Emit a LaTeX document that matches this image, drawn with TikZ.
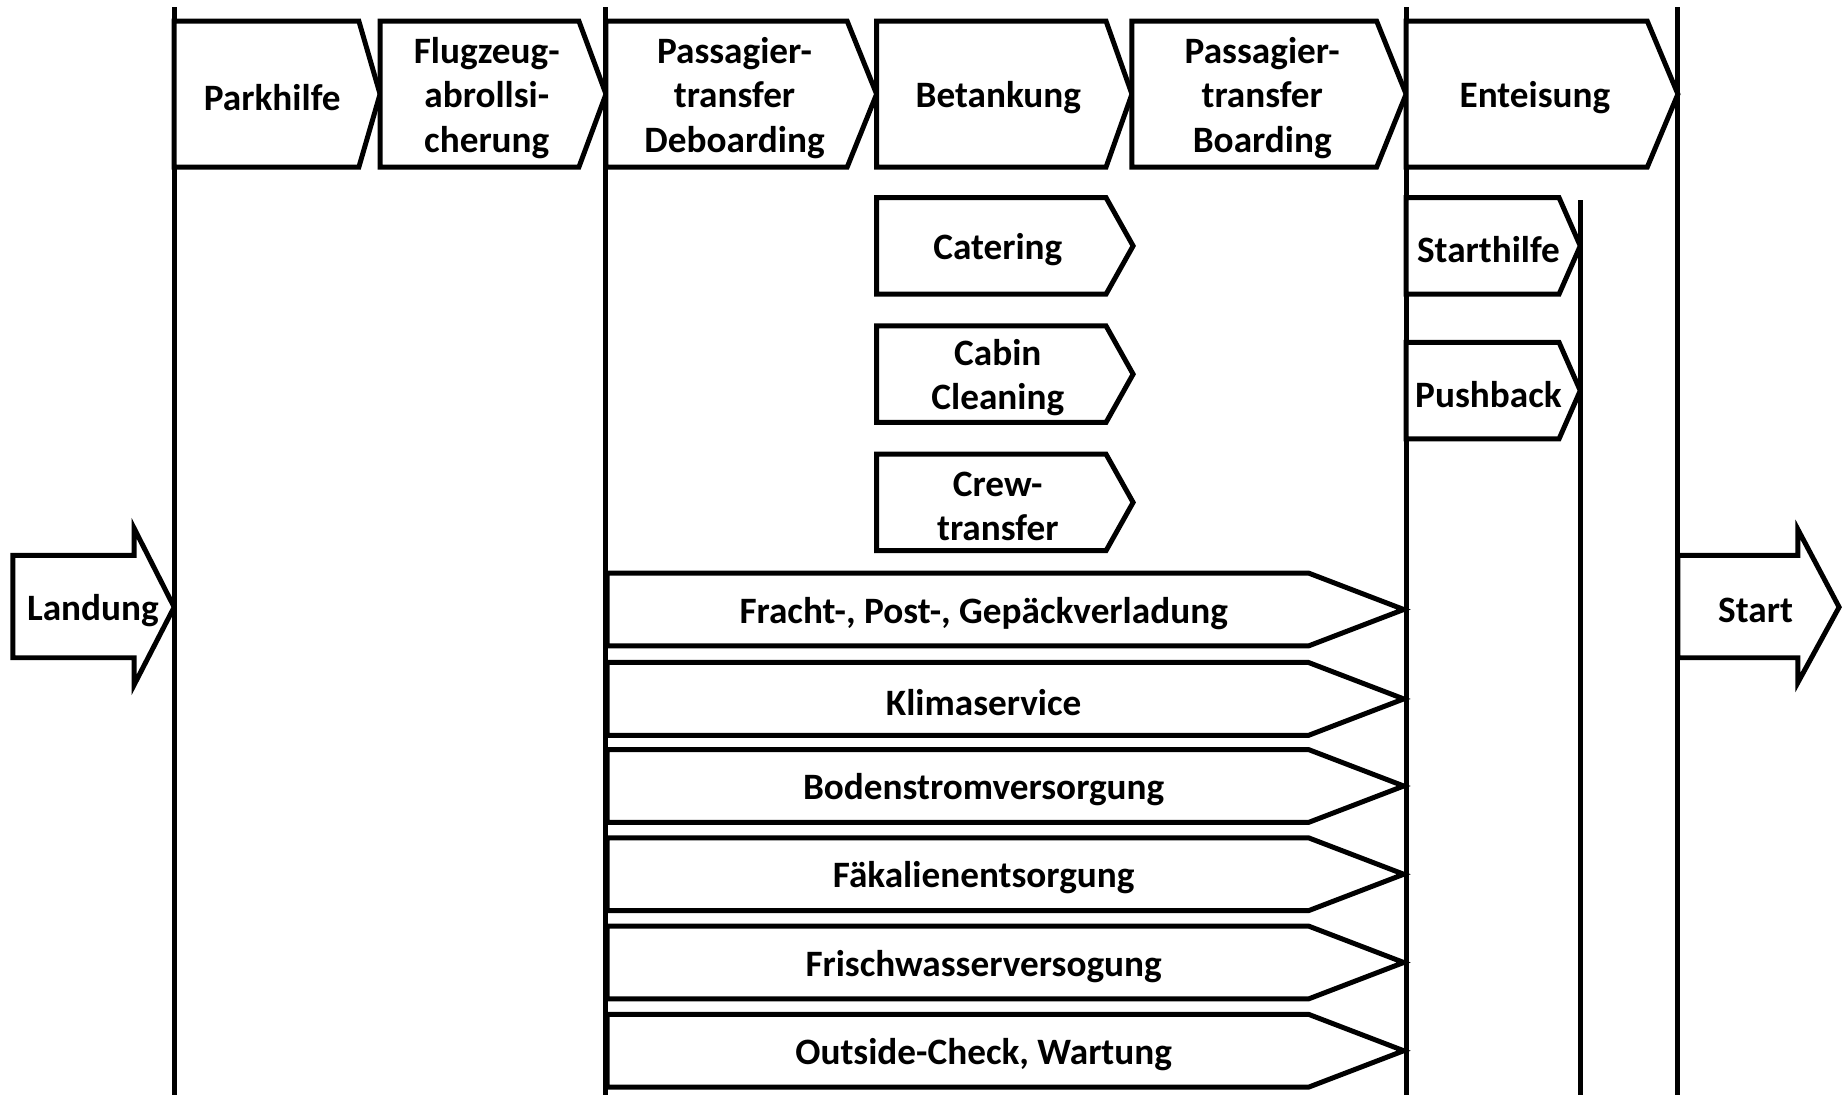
\documentclass[tikz,border=0pt]{standalone}
\usepackage{fontspec}
\setmainfont{Carlito}

\begin{document}
\begin{tikzpicture}[x = 0.01cm, y = -0.01cm, line width = 1.2pt,
    txt/.style = {font = \bfseries\fontsize{9}{10.7}\selectfont, align = center, inner sep = 0pt, yshift = -0.9pt},
    box/.style = {draw, fill = white, line join = miter}]
        \useasboundingbox (0,0) rectangle (1568,931);

        \foreach \x in {148, 515, 1195, 1426}
                 {
                   \draw (\x, 6) -- (\x, 931);
                 }
        \draw (1343, 170) -- (1343, 931);

        % top row
        \foreach \l/\c/\t/\n/\lab [evaluate = \l as \m using {(\l+\c)/2 + 0.27*(\t-\c)}] in
                 {148/305/323/park/Parkhilfe, 323/492/515/abroll/{Flugzeug-\\abrollsi-\\cherung},
                  515/720/745/deboard/{Passagier-\\transfer\\Deboarding}, 745/940/962/tank/Betankung,
                  962/1170/1195/board/{Passagier-\\transfer\\Boarding}, 1195/1400/1426/enteis/Enteisung}
                 {
                   \draw [box] (\l, 18) -- (\c, 18) -- (\t, 80) -- (\c, 142) -- (\l, 142) -- cycle;
                   \node [txt] (\n) at (\m, 80) {\lab};
                 }

        % below Betankung
        \foreach \y/\n/\lab in {168/cat/Catering, 277/clean/{Cabin\\Cleaning}, 386/crew/{Crew-\\transfer}}
                 {
                   \draw [box] (745, \y) -- (940, \y) -- (963, \y+41) -- (940, \y+82) -- (745, \y+82) -- cycle;
                   \node [txt] (\n) at (848, \y+41) {\lab};
                 }

        % below Enteisung
        \foreach \y/\n/\lab in {168/starth/Starthilfe, 291/push/Pushback}
                 {
                   \draw [box] (1195, \y) -- (1325, \y) -- (1343, \y+41) -- (1325, \y+82) -- (1195, \y+82) -- cycle;
                   \node [txt] (\n) at (1265, \y+41) {\lab};
                 }

        % long bars
        \foreach \y/\n/\lab in {487/fracht/{Fracht-, Post-, Gepäckverladung}, 563/klima/Klimaservice,
                                637/boden/Bodenstromversorgung, 712/faek/Fäkalienentsorgung,
                                787/wasser/Frischwasserversogung, 862/check/{Outside-Check, Wartung}}
                 {
                   \draw [box] (516, \y) -- (1112, \y) -- (1193, \y+31) -- (1112, \y+62) -- (516, \y+62) -- cycle;
                   \node [txt] (\n) at (836, \y+31) {\lab};
                 }

        \draw [box] (11, 472) -- (114, 472) -- (114, 449) -- (148, 516) -- (114, 582) -- (114, 559) -- (11, 559) -- cycle;
        \node [txt] (land) at (79, 516) {Landung};

        \draw [box] (1426, 472) -- (1528, 472) -- (1528, 450) -- (1563, 516) -- (1528, 580) -- (1528, 559) -- (1426, 559) -- cycle;
        \node [txt] (start) at (1492, 516) {Start};
\end{tikzpicture}
\end{document}
